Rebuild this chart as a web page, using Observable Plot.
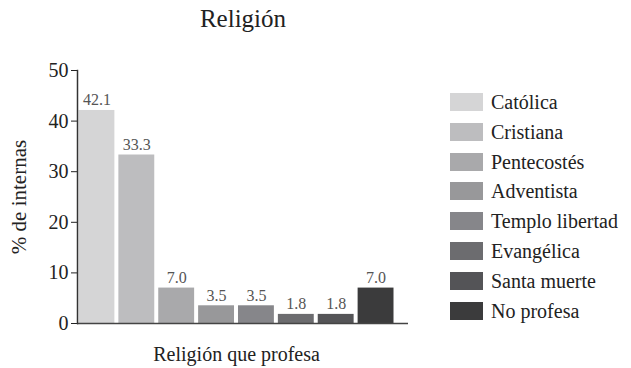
<!DOCTYPE html>
<html>
<head>
<meta charset="utf-8">
<script src="https://cdn.jsdelivr.net/npm/d3@7"></script>
<script src="https://cdn.jsdelivr.net/npm/@observablehq/plot@0.6"></script>
<style>
  body { margin: 0; background: #fff; }
  #wrap { position: relative; width: 631px; height: 368px; font-family: "Liberation Serif", "Times New Roman", Times, "DejaVu Serif", serif; color: #222; overflow: hidden; }
  #title { position: absolute; left: 0; width: 486px; top: 6px; text-align: center; font-size: 25px; line-height: 25px; }
  #chart { position: absolute; left: 0; top: 50px; }
  #legend { position: absolute; left: 450px; top: 93px; }
  .row { height: 29.8px; display: flex; align-items: flex-start; }
  .sw { width: 33px; height: 18px; margin-right: 8px; flex: none; }
  .lab { font-size: 20px; line-height: 18px; white-space: nowrap; }
</style>
</head>
<body>
<div id="wrap">
  <div id="title">Religión</div>
  <div id="chart"></div>
  <div id="legend"></div>
</div>
<script>
const categories = ["Católica", "Cristiana", "Pentecostés", "Adventista", "Templo libertad", "Evangélica", "Santa muerte", "No profesa"];
const values = [42.1, 33.3, 7.0, 3.5, 3.5, 1.8, 1.8, 7.0];
const colors = ["#d5d5d6", "#bdbdbf", "#a9a9ab", "#98989a", "#86868a", "#6c6c6f", "#545457", "#3b3b3c"];
const yTicks = [0, 10, 20, 30, 40, 50];
const xLabel = "Religión que profesa";
const yLabel = "% de internas";

const data = categories.map((c, i) => ({cat: c, value: values[i]}));
const serif = '"Liberation Serif", "Times New Roman", Times, "DejaVu Serif", serif';

const chart = Plot.plot({
  width: 440,
  height: 318,
  marginTop: 20,
  marginBottom: 45,
  marginLeft: 77,
  marginRight: 32,
  style: {fontFamily: serif, fontSize: "20px", background: "transparent", color: "#222"},
  x: {domain: categories, range: [78.5, 393.5], paddingInner: 0.1, paddingOuter: 0, round: false, axis: null},
  y: {domain: [0, 50], ticks: yTicks, tickSize: 6, tickPadding: 3, label: null},
  color: {domain: categories, range: colors},
  marks: [
    Plot.barY(data, {x: "cat", y: "value", fill: "cat"}),
    Plot.text(data, {x: "cat", y: "value", text: d => d.value.toFixed(1), lineAnchor: "bottom", dy: -5, fontSize: 16, fill: "#555"}),
    Plot.ruleY([0], {stroke: "#444", strokeWidth: 1.5}),
    Plot.frame({anchor: "left", stroke: "#333", strokeWidth: 1.5}),
    Plot.text([xLabel], {text: d => d, x: () => categories[3], dx: 20, frameAnchor: "bottom", textAnchor: "middle", lineAnchor: "middle", dy: 31, fontSize: 20, fill: "#222"}),
    Plot.text([yLabel], {text: d => d, frameAnchor: "left", textAnchor: "middle", lineAnchor: "middle", dx: -58, rotate: -90, fontSize: 21, fill: "#222"})
  ]
});
chart.style.fontFamily = serif;
document.getElementById("chart").appendChild(chart);

const legend = document.getElementById("legend");
categories.forEach((c, i) => {
  const row = document.createElement("div");
  row.className = "row";
  const sw = document.createElement("div");
  sw.className = "sw";
  sw.style.background = colors[i];
  const lab = document.createElement("div");
  lab.className = "lab";
  lab.textContent = c;
  row.appendChild(sw);
  row.appendChild(lab);
  legend.appendChild(row);
});
</script>
</body>
</html>
